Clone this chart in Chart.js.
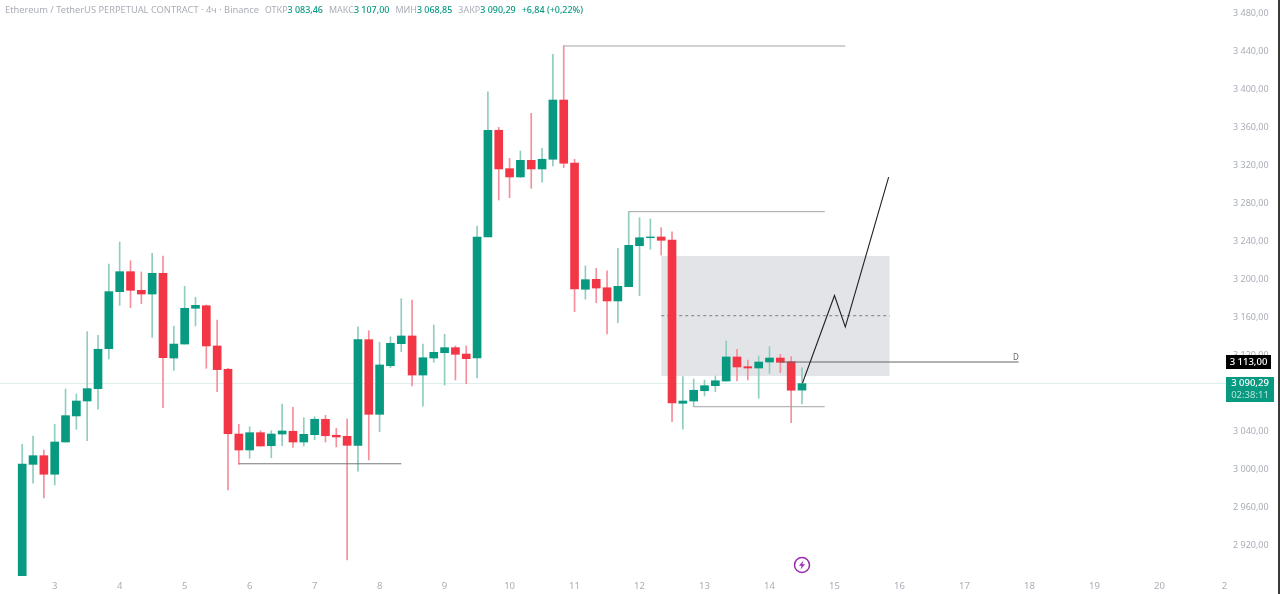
<!DOCTYPE html>
<html>
<head>
<meta charset="utf-8">
<title>ETHUSDT 4h</title>
<script src="https://cdn.jsdelivr.net/npm/chart.js@4/dist/chart.umd.min.js"></script>
<style>
html,body{margin:0;padding:0;background:#fff;}
#wrap{position:relative;width:1280px;height:594px;overflow:hidden;font-family:"Noto Sans",sans-serif;}
#c{position:absolute;left:0;top:0;}
#head{position:absolute;left:5px;top:3px;font-size:8.95px;line-height:14px;color:#a9adb6;white-space:nowrap;}
#head i{font-style:normal;font-size:9.3px;margin-right:6px;}
#head b{font-weight:500;color:#089981;margin-right:6px;}
.tag{position:absolute;color:#fff;text-align:center;font-size:9.5px;font-weight:500;line-height:12px;}
#tag-level{left:1226px;top:355px;width:45px;height:14px;line-height:14px;background:#000;}
#tag-last{left:1226px;top:377px;width:48px;height:25px;background:#089981;}
#tag-last span{display:block;color:#b5e3d8;font-size:9.5px;font-weight:400;}
#level-name{position:absolute;left:1013px;top:352px;font-size:8px;line-height:10px;color:#666;}
#edge{position:absolute;left:1278px;top:0;width:2px;height:594px;background:#3a3a3a;}
</style>
</head>
<body>
<div id="wrap">
  <canvas id="c" width="1280" height="594"></canvas>
  <div id="head"><i>Ethereum / TetherUS PERPETUAL CONTRACT · 4ч · Binance</i>ОТКР<b>3 083,46</b>МАКС<b>3 107,00</b>МИН<b>3 068,85</b>ЗАКР<b>3 090,29</b><b>+6,84 (+0,22%)</b></div>
  <div id="level-name">D</div>
  <div id="tag-level" class="tag">3 113,00</div>
  <div id="tag-last" class="tag">3 090,29<span>02:38:11</span></div>
  <div id="edge"></div>
</div>
<script>
// ---------- DATA ----------
const opens=[2870,3005.4,3014.5,2995,3028.9,3056.3,3072,3085,3127,3187,3208,3188.4,3184.5,3206.3,3117.2,3131.9,3169.5,3172.2,3129.9,3105.4,3037.3,3020.5,3038.7,3025,3037.3,3040.2,3028.9,3036.6,3052.8,3036,3034.9,3025.4,3136.5,3058,3109.1,3132.3,3140.4,3099.3,3117.2,3122.8,3128.1,3121.4,3117.2,3244.5,3356.7,3316.3,3307.6,3325.1,3316,3326.2,3388.5,3322.3,3189.5,3200,3191.1,3177.2,3192.2,3235.3,3243.7,3244.5,3241.3,3069.6,3072,3082.8,3088.1,3093,3118.3,3108.1,3106.7,3113,3117.2,3113.3,3083.46];
const closes=[3005.8,3014.5,2995,3028.9,3056.6,3072,3085,3126.4,3187,3208,3188.4,3184.5,3206.3,3117.5,3131.9,3169.5,3172.6,3129.9,3105,3037.6,3020.5,3038.7,3024.7,3037.3,3040.5,3028.9,3037,3052.8,3035.5,3034.2,3025.4,3136.5,3058,3109.9,3132.7,3140.4,3099.3,3117.5,3123.2,3128.1,3121.1,3116.5,3244.5,3356.7,3316,3307.6,3325.1,3316,3326.2,3388.5,3322,3189.8,3199.6,3190.8,3177.2,3192.6,3235.7,3243.7,3244.5,3241,3069.9,3072,3083.3,3088.1,3093.3,3118.3,3107.8,3106.7,3113,3117.2,3112.7,3083.3,3090.29];
const highs=[3026.5,3035.2,3020.5,3047.5,3084.6,3079.4,3144.9,3141.1,3216.1,3239.2,3219.5,3207.7,3227.3,3224.5,3150.6,3192.6,3181.1,3173,3157.2,3106.4,3047.5,3045,3040.8,3040.8,3068.9,3065.4,3054.4,3055.5,3057,3043.3,3053.1,3150.1,3145.9,3133.7,3139.6,3179.6,3178.2,3131.9,3152,3142.2,3129.9,3129.9,3256,3397.2,3359.8,3327.2,3334.9,3374.5,3337.7,3436.6,3445.6,3326.2,3214,3211.5,3209,3232.6,3271.1,3264.8,3263.4,3254.3,3250,3097.6,3095.1,3094.1,3098.3,3135.1,3126.4,3115.1,3119.3,3129.1,3121.1,3118.6,3107];
const lows=[2860,2985.5,2970,2983.7,3028.9,3042.3,3030.3,3063.3,3116.2,3172.6,3170.1,3174.3,3139,3065,3104.3,3131.9,3150.9,3106.4,3081.8,2978.4,3005.5,3011.8,3024.7,3012.4,3025,3023.3,3024.7,3031.3,3028.9,3023.6,2904.8,2998.1,3010,3039.7,3107,3123.9,3087.8,3066.5,3112.7,3088.8,3094.1,3090.2,3096.2,3244.5,3283.4,3285.8,3307.2,3295.7,3302,3319.1,3317.3,3165.9,3179,3175.4,3142.5,3154.3,3192.2,3182.7,3231.5,3225.5,3050.3,3042.3,3066,3077.3,3081.8,3093,3093,3094.1,3074.9,3101,3101.8,3049.2,3068.85];

const xTicks=[3,9,15,21,27,33,39,45,51,57,63,69,75,81,87,93,99,105,111];
const xTickLabels=['3','4','5','6','7','8','9','10','11','12','13','14','15','16','17','18','19','20','2'];
const yTicks=[3480,3440,3400,3360,3320,3280,3240,3200,3160,3120,3080,3040,3000,2960,2920];
const yTickLabels=['3 480,00','3 440,00','3 400,00','3 360,00','3 320,00','3 280,00','3 240,00','3 200,00','3 160,00','3 120,00','3 080,00','3 040,00','3 000,00','2 960,00','2 920,00'];

// drawings on the chart, [candle index, price]
const highBracket=[[50,3445.3],[76,3445.3]];
const midBracket=[[56,3271.1],[74.1,3271.1]];
const lowBracket1=[[20,3006],[35,3006]];
const lowBracket2=[[62,3066],[74.1,3066]];
const dayLevel=[[70,3113],[92,3113]];
const zoneTop=[[59,3224.5],[80.1,3224.5]];
const zoneBottomPrice=3098.3;
const zoneMid=[[59,3161.7],[80.1,3161.7]];
const pathLine=[[72.05,3091],[75,3183],[76,3150],[80,3307.5]];
const lastPrice=[[-2.05,3090.29],[111.2,3090.29]];
const eventMark=[[72,2899.6]];

// ---------- HELPERS ----------
const GREEN='#089981', RED='#F23645';
const isUp=i=>closes[i]>=opens[i];
const toXY=arr=>arr.map(p=>({x:p[0],y:p[1]}));

function line(points,color,width,dash,order){
  return {type:'line',data:toXY(points),borderColor:color,borderWidth:width,borderDash:dash||[],
    pointRadius:0,fill:false,tension:0,order:order};
}

// little round icon with a bolt
function makeIcon(){
  const cv=document.createElement('canvas');
  cv.width=18; cv.height=18;
  const g=cv.getContext('2d');
  g.strokeStyle='#9c27b0'; g.fillStyle='#fff'; g.lineWidth=1.5;
  g.beginPath(); g.arc(9,9,7.5,0,Math.PI*2); g.fill(); g.stroke();
  g.fillStyle='#9c27b0';
  g.beginPath();
  g.moveTo(10.5,4.5); g.lineTo(6,9.8); g.lineTo(8.7,9.8); g.lineTo(7.5,13.5); g.lineTo(12,8.2); g.lineTo(9.3,8.2);
  g.closePath(); g.fill();
  return cv;
}

// ---------- CHART ----------
const fontFamily='"Noto Sans",sans-serif';
new Chart(document.getElementById('c').getContext('2d'),{
  data:{
    datasets:[
      Object.assign(line(zoneTop,'rgba(0,0,0,0)',0,null,9),{fill:{value:zoneBottomPrice},backgroundColor:'#e3e4e8'}),
      line(zoneMid,'#7d7d85',1,[3,3],8),
      line(lastPrice,'#d9eee9',1,null,7),
      {type:'bar',data:opens.map((_,i)=>({x:i,y:[lows[i],highs[i]]})),
        backgroundColor:opens.map((_,i)=>isUp(i)?'#8fcdbf':'#f68f9b'),barThickness:1,grouped:false,order:6},
      {type:'bar',data:opens.map((_,i)=>({x:i,y:[opens[i],closes[i]]})),
        backgroundColor:opens.map((_,i)=>isUp(i)?GREEN:RED),barThickness:8,grouped:false,order:5},
      line(highBracket,'#a3a3a8',1,null,4),
      line(midBracket,'#a3a3a8',1,null,4),
      line(lowBracket1,'#77777c',1,null,4),
      line(lowBracket2,'#a3a3a8',1,null,4),
      line(dayLevel,'#66666a',1,null,3),
      line(pathLine,'#222226',1.1,null,2),
      {type:'scatter',data:toXY(eventMark),pointStyle:makeIcon(),pointRadius:9,order:1}
    ]
  },
  options:{
    responsive:false,
    devicePixelRatio:1,
    animation:false,
    layout:{padding:0,autoPadding:false},
    plugins:{legend:{display:false},tooltip:{enabled:false},title:{display:false}},
    scales:{
      x:{
        type:'linear',min:-2.05,max:111.15,offset:false,
        grid:{display:false,drawTicks:false},border:{display:false},
        afterFit:s=>{s.height=18;s.paddingLeft=0;s.paddingRight=0;},
        afterBuildTicks:s=>{s.ticks=xTicks.map(v=>({value:v}));},
        ticks:{color:'#a9adb6',font:{family:fontFamily,size:9.5},padding:5,maxRotation:0,autoSkip:false,
          callback:v=>xTickLabels[xTicks.indexOf(v)]}
      },
      y:{
        position:'right',min:2888,max:3493.67,
        grid:{display:false,drawTicks:false},border:{display:false},
        afterFit:s=>{s.width=54;s.paddingTop=0;s.paddingBottom=0;},
        afterBuildTicks:s=>{s.ticks=yTicks.map(v=>({value:v}));},
        ticks:{color:'#a9adb6',font:{family:fontFamily,size:9},padding:7,autoSkip:false,
          callback:v=>yTickLabels[yTicks.indexOf(v)]}
      }
    }
  }
});
</script>
</body>
</html>
